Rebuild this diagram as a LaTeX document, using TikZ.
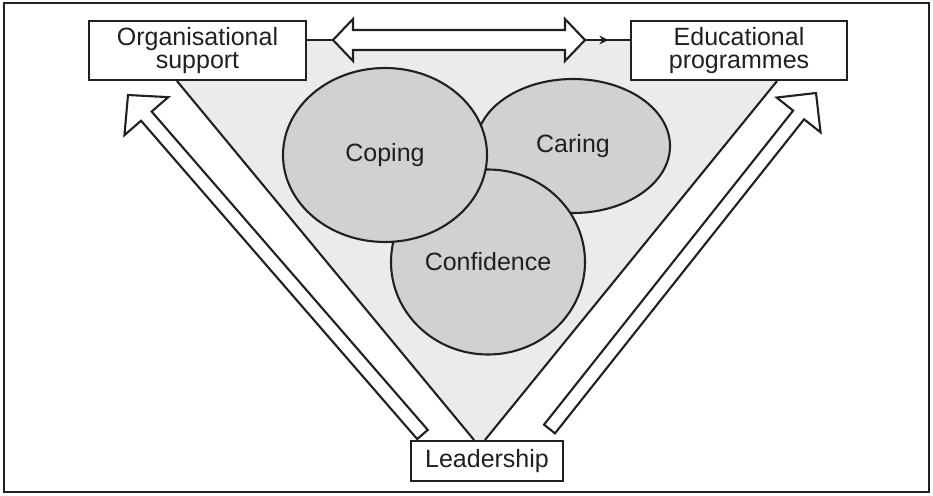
\documentclass[tikz,border=0pt]{standalone}
\usepackage{fontspec}
\setmainfont{Liberation Sans}
\usetikzlibrary{shapes.geometric,calc,arrows.meta,decorations.markings,backgrounds}
\definecolor{ink}{RGB}{35,31,32}
\definecolor{ovalgrey}{RGB}{208,209,211}
\definecolor{wedgegrey}{RGB}{235,235,235}
\tikzset{
  label box/.style={
    draw=ink, fill=white, inner sep=0pt, align=center, text=ink,
    font=\fontsize{25}{23}\selectfont
  },
  oval/.style={
    ellipse, draw=ink, fill=ovalgrey, inner sep=0pt, text=ink,
    font=\fontsize{25}{30}\selectfont
  },
  hollow/.style={draw=ink, fill=white, line join=miter},
  marked/.style={
    decoration={markings, mark=at position 0.52 with {\arrow{Stealth[length=9pt,width=9pt]}}},
    postaction=decorate
  }
}
% #1 tail, #2 tip, #3 half shaft, #4 half head, #5 head length
\newcommand{\hollowarrow}[5]{%
  \coordinate (ha-b) at ($(#2)!#5!(#1)$);
  \draw[hollow]
    ($(#1)!#3!-90:(#2)$) -- ($(ha-b)!#3!90:(#1)$) -- ($(ha-b)!#4!90:(#1)$) --
    (#2) -- ($(ha-b)!#4!-90:(#1)$) -- ($(ha-b)!#3!-90:(#1)$) --
    ($(#1)!#3!90:(#2)$) -- cycle;}
\newcommand{\hollowdoublearrow}[5]{%
  \coordinate (hb-l) at ($(#1)!#5!(#2)$);
  \coordinate (hb-r) at ($(#2)!#5!(#1)$);
  \draw[hollow]
    (#1) -- ($(hb-l)!#4!90:(#2)$) -- ($(hb-l)!#3!90:(#2)$) --
    ($(hb-r)!#3!-90:(#1)$) -- ($(hb-r)!#4!-90:(#1)$) -- (#2) --
    ($(hb-r)!#4!90:(#1)$) -- ($(hb-r)!#3!90:(#1)$) --
    ($(hb-l)!#3!-90:(#2)$) -- ($(hb-l)!#4!-90:(#2)$) -- cycle;}

\begin{document}
\begin{tikzpicture}[x=1pt, y=-1pt, line width=2.1pt, draw=ink]
\useasboundingbox (0,0) rectangle (933,495);
\draw[ink] (4,3) rectangle (929,492);

\node[label box, minimum width=217pt, minimum height=59pt] (org) at (197.5,50.5) {Organisational\\support};
\node[label box, minimum width=216pt, minimum height=59pt] (edu) at (739,50.5) {Educational\\programmes};
\node[label box, minimum width=152pt, minimum height=40pt] (lead) at (487,461) {Leadership};

\coordinate (wl) at ([xshift=-20.5pt]org.south);
\coordinate (wr) at ([xshift=38pt]edu.south);
\coordinate (bl) at ([xshift=-13pt]lead.north);
\coordinate (br) at ([xshift=-2pt]lead.north);
\begin{scope}[on background layer]
  \fill[wedgegrey] ($(wl)!-0.1163!(bl)$) -- ($(wr)!-0.1163!(br)$) -- (br) -- (bl) -- cycle;
\end{scope}
\draw[ink] (wl) -- (bl);
\draw[ink] (wr) -- (br);

\node[oval, minimum width=194pt, minimum height=134pt] (caring) at (573,146) {Caring};
\node[oval, minimum width=194pt, minimum height=185pt] (confid) at (488,262) {Confidence};
\node[oval, minimum width=204pt, minimum height=174pt] (coping) at (385,155) {Coping};

% top link
\coordinate (dl) at (333,40);
\coordinate (dr) at (585,40);
\draw[ink] (org.east |- dl) -- (dl);
\draw[ink, marked] (dr) -- (edu.west |- dr);
\hollowdoublearrow{dl}{dr}{10pt}{21pt}{20pt}

% leadership arrows
\coordinate (lt) at (422.5,434.5);
\coordinate (lh) at (128,95);
\coordinate (rt) at (549.5,429);
\coordinate (rh) at (816,93);
\hollowarrow{lt}{lh}{7pt}{29pt}{28pt}
\hollowarrow{rt}{rh}{7pt}{28pt}{28pt}
\end{tikzpicture}
\end{document}
